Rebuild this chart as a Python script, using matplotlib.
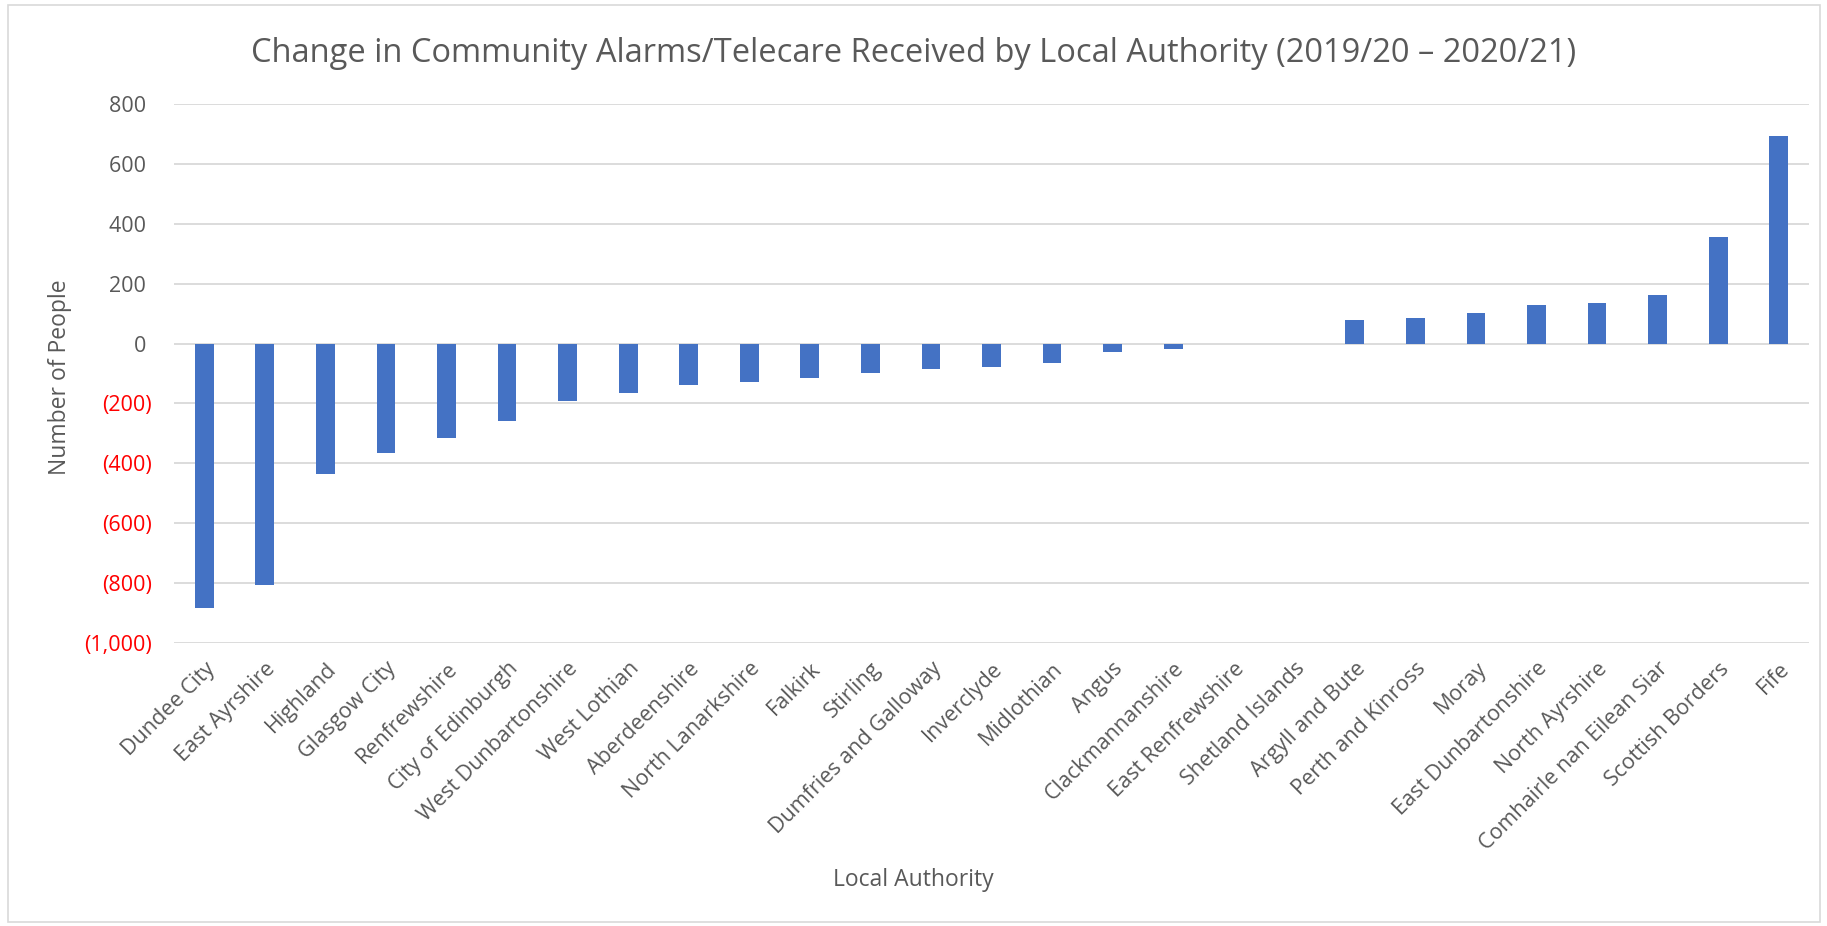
import matplotlib.pyplot as plt
from matplotlib.ticker import FuncFormatter

authorities = [
    "Dundee City", "East Ayrshire", "Highland", "Glasgow City", "Renfrewshire",
    "City of Edinburgh", "West Dunbartonshire", "West Lothian", "Aberdeenshire",
    "North Lanarkshire", "Falkirk", "Stirling", "Dumfries and Galloway",
    "Inverclyde", "Midlothian", "Angus", "Clackmannanshire", "East Renfrewshire",
    "Shetland Islands", "Argyll and Bute", "Perth and Kinross", "Moray",
    "East Dunbartonshire", "North Ayrshire", "Comhairle nan Eilean Siar",
    "Scottish Borders", "Fife",
]
change = [
    -882, -806, -434, -367, -314, -259, -193, -165, -140, -129, -114, -98,
    -84, -78, -64, -28, -19, 0, 0, 80, 87, 101, 130, 137, 161, 356, 694,
]
y_ticks = [800, 600, 400, 200, 0, -200, -400, -600, -800, -1000]

plt.rcParams["font.family"] = ["Open Sans", "DejaVu Sans"]
text_grey = "#595959"

W, H = 1827, 926
fig = plt.figure(figsize=(W / 100, H / 100), dpi=100)
# plot area in pixels: left 174, right 1809, top 104, bottom 643
ax = fig.add_axes([174 / W, 1 - 643 / H, (1809 - 174) / W, (643 - 104) / H])

x = range(len(authorities))
ax.bar(x, change, width=0.31, color="#4472C4", zorder=3)

ax.set_xlim(-0.5, len(authorities) - 0.5)
ax.set_ylim(-1000, 800)
ax.set_yticks(y_ticks)
# accounting style: negatives in brackets, positives padded to line up with ")"
ax.yaxis.set_major_formatter(
    FuncFormatter(lambda v, _: f"({abs(v):,.0f})" if v < 0 else f"{v:,.0f}\u2008")
)
ax.set_xticks(list(x))
ax.set_xticklabels(authorities, rotation=45, ha="right", rotation_mode="anchor")

ax.grid(axis="y", color="#d9d9d9", linewidth=1.3, zorder=0)
for side in ax.spines.values():
    side.set_visible(False)
ax.tick_params(axis="both", length=0, labelsize=15.5, colors=text_grey)
ax.tick_params(axis="y", pad=16)
ax.tick_params(axis="x", pad=11)
for lbl, v in zip(ax.get_yticklabels(), y_ticks):
    if v < 0:
        lbl.set_color("red")

fig.suptitle(
    "Change in Community Alarms/Telecare Received by Local Authority (2019/20 \u2013 2020/21)",
    x=0.5, y=1 - 54 / H, va="center", fontsize=23.5, color=text_grey,
)
fig.text(60 / W, 1 - 377 / H, "Number of People", rotation=90,
         ha="center", va="center", fontsize=16.5, color=text_grey)
fig.text(0.5, 1 - 880 / H, "Local Authority", ha="center", va="center",
         fontsize=16.5, color=text_grey)

fig.patches.append(plt.Rectangle((8 / W, 4 / H), 1 - 15 / W, 1 - 9 / H,
                                 transform=fig.transFigure, fill=False,
                                 edgecolor="#d9d9d9", linewidth=1.2))

fig.savefig("out.png", dpi=100)
